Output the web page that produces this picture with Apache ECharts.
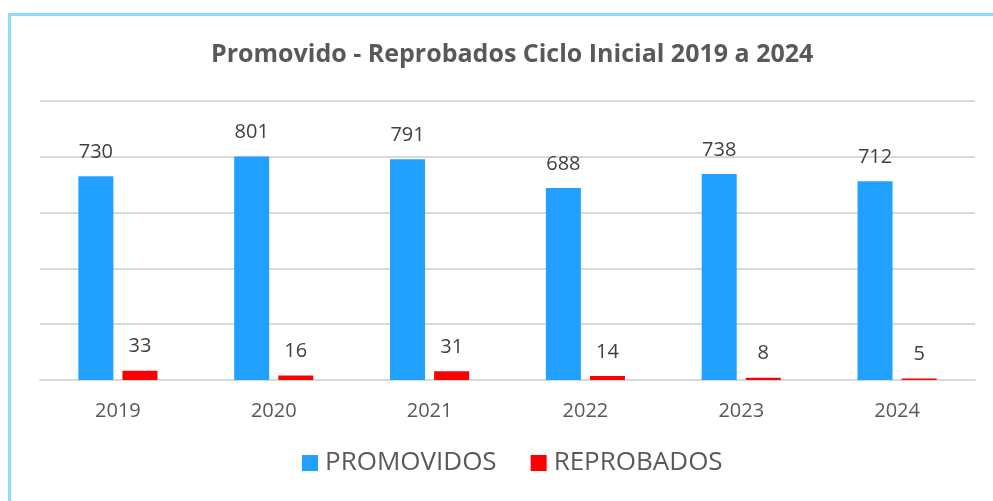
<!DOCTYPE html>
<html>
<head>
<meta charset="utf-8">
<script src="https://cdn.jsdelivr.net/npm/echarts@6/dist/echarts.min.js"></script>
<style>
  html, body { margin: 0; padding: 0; background: #fff; overflow: hidden; }
  #frame { position: absolute; left: 8px; top: 13px; width: 1000px; height: 500px; border: 3px solid #8fdcf8; }
  #chart { position: absolute; left: 0; top: 0; width: 993px; height: 501px; }
</style>
</head>
<body>
<div id="frame"></div>
<div id="chart"></div>
<script>
const years = ["2019", "2020", "2021", "2022", "2023", "2024"];
const promovidos = [730, 801, 791, 688, 738, 712];
const reprobados = [33, 16, 31, 14, 8, 5];

const labelStyle = { show: true, position: "top", distance: 14, fontSize: 20, color: "#404040", fontFamily: "Open Sans" };

const chart = echarts.init(document.querySelector("#chart"));
chart.setOption({
  animation: false,
  title: {
    text: "Promovido - Reprobados Ciclo Inicial 2019 a 2024",
    left: 206, top: 37,
    textStyle: { fontSize: 25, fontWeight: "bold", color: "#595959", fontFamily: "Open Sans" }
  },
  legend: {
    bottom: 20, left: 297,
    itemWidth: 16, itemHeight: 16, itemGap: 34,
    icon: "rect",
    textStyle: { fontSize: 26, color: "#595959", fontFamily: "Open Sans", padding: [0, 0, 0, 2] },
    data: ["PROMOVIDOS", "REPROBADOS"]
  },
  grid: { left: 40, right: 18, top: 101, bottom: 121, containLabel: false },
  xAxis: {
    type: "category",
    data: years,
    axisTick: { show: false },
    axisLine: { lineStyle: { color: "#d9d9d9", width: 2 } },
    axisLabel: { fontSize: 20, color: "#595959", margin: 21, fontFamily: "Open Sans" }
  },
  yAxis: {
    type: "value", min: 0, max: 1000, interval: 200,
    axisLabel: { show: false },
    axisLine: { show: false },
    axisTick: { show: false },
    splitLine: { lineStyle: { color: "#d9d9d9", width: 2 } }
  },
  series: [
    { name: "PROMOVIDOS", type: "bar", data: promovidos, barWidth: 35, barGap: "26%",
      itemStyle: { color: "#21a0ff" }, label: labelStyle },
    { name: "REPROBADOS", type: "bar", data: reprobados, barWidth: 35,
      itemStyle: { color: "#ff0000" }, label: labelStyle }
  ]
});
</script>
</body>
</html>
